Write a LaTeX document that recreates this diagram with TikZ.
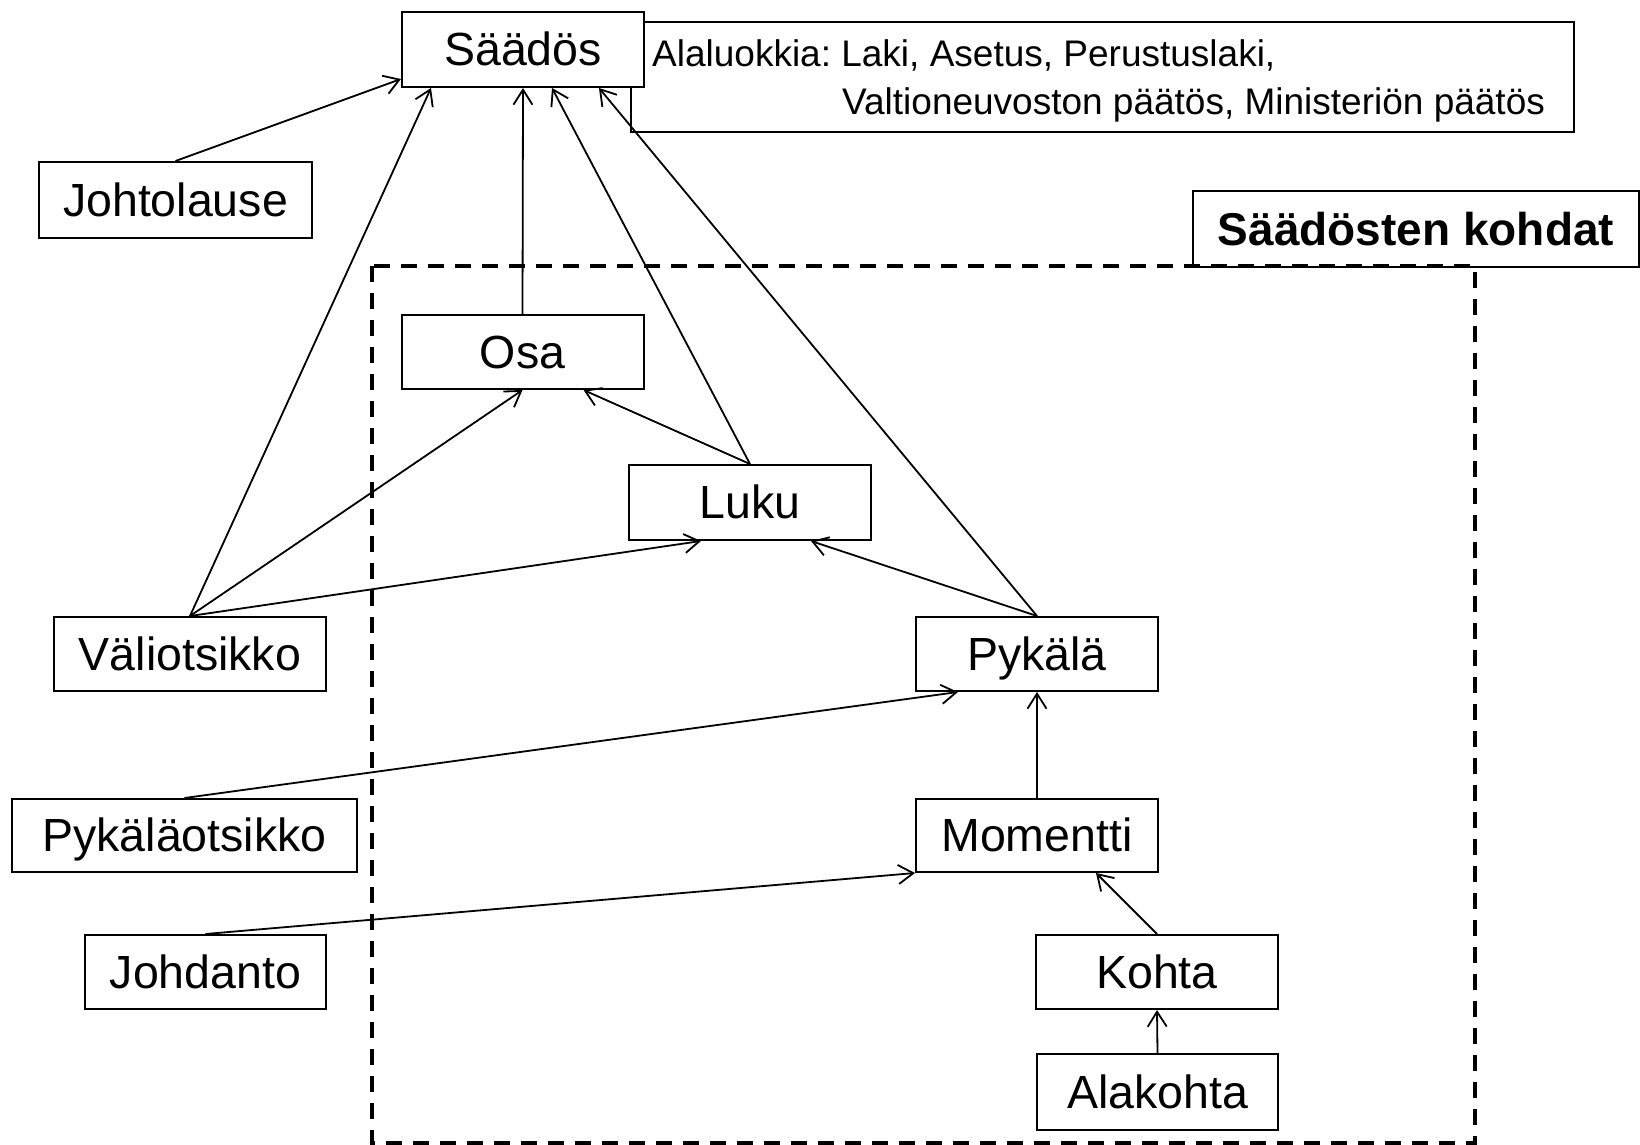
\documentclass[tikz,border=0pt]{standalone}
\usepackage{fontspec}
\setmainfont{Liberation Sans}
\usetikzlibrary{arrows.meta}
\frenchspacing
\begin{document}
\begin{tikzpicture}[x=1pt,y=-1pt,
  box/.style={draw,line width=2pt,fill=white,inner sep=0pt,minimum width=242pt,minimum height=75pt,text height=32pt,text depth=0pt,font=\fontsize{46.5}{56}\selectfont},
  notetext/.style={anchor=base west,inner sep=0pt,font=\fontsize{37}{44}\selectfont},
  arr/.style={line width=1.8pt,-{Straight Barb[length=15pt,width=19pt]}},
  region/.style={line width=3.5pt,dash pattern=on 16pt off 11pt}
  ]
\useasboundingbox (0,0) rectangle (1640,1145);
% note box (behind Säädös)
\node[draw,line width=2pt,minimum width=943pt,minimum height=110pt,inner sep=0pt] (note) at (1102.5,77) {};
\node[notetext] (n1) at (652,66.7) {Alaluokkia: Laki, Asetus, Perustuslaki,};
\node[notetext] (n2) at (842,114) {Valtioneuvoston päätös, Ministeriön päätös};
% nodes
\node[box] (s) at (523,49.5) {Säädös};
\node[box,minimum width=273pt,minimum height=76pt] (jl) at (175.5,200) {Johtolause};
\node[box,minimum height=74pt] (osa) at (522.5,352) {Osa};
\node[box] (luku) at (750,502.5) {Luku};
\node[box,minimum width=272pt,minimum height=74pt] (vo) at (190,654) {Väliotsikko};
\node[box,minimum height=74pt] (pyk) at (1037,654) {Pykälä};
\node[box,minimum width=345pt,minimum height=73pt] (po) at (184.5,835.5) {Pykäläotsikko};
\node[box,minimum height=73pt] (mom) at (1037,835.5) {Momentti};
\node[box,minimum width=241pt,minimum height=74pt] (jd) at (205.5,972) {Johdanto};
\node[box,minimum height=74pt] (kohta) at (1157,972) {Kohta};
\node[box,minimum width=241pt,minimum height=76pt] (ala) at (1157.5,1092) {Alakohta};
% region label and dashed region
\node[box,minimum width=446pt,minimum height=76pt,text height=33pt,font=\bfseries\fontsize{46}{55}\selectfont] (sk) at (1416,229) {Säädösten kohdat};
\draw[region] (372,266) rectangle (1475,1143);
% connectors
\draw[arr] (jl.north) -- ([yshift=9pt]s.south west);
\draw[arr] (vo.north) -- ([xshift=30pt]s.south west);
\draw[arr] (osa.north) -- (s.south);
\draw[arr] (luku.north) -- ([xshift=151pt]s.south west);
\draw[arr] (pyk.north) -- ([xshift=198pt]s.south west);
\draw[arr] (vo.north) -- (osa.south);
\draw[arr] (luku.north) -- ([xshift=183pt]osa.south west);
\draw[arr] (vo.north) -- ([xshift=73pt]luku.south west);
\draw[arr] (pyk.north) -- ([xshift=183pt]luku.south west);
\draw[arr] (po.north) -- ([xshift=43pt]pyk.south west);
\draw[arr] (mom.north) -- (pyk.south);
\draw[arr] (jd.north) -- (mom.south west);
\draw[arr] (kohta.north) -- ([xshift=181pt]mom.south west);
\draw[arr] (ala.north) -- (kohta.south);
\end{tikzpicture}
\end{document}
